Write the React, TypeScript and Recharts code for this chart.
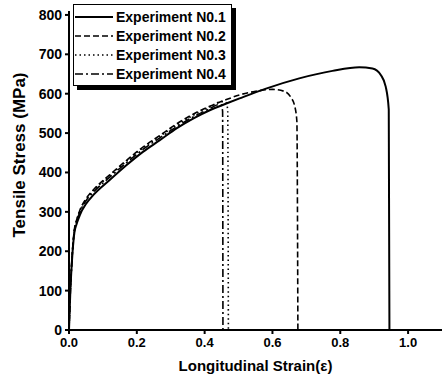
import React from 'react';
import { LineChart, Line, XAxis, YAxis } from 'recharts';

// strain / stress pairs
const strain1 = [0, 0.004, 0.008, 0.012, 0.016, 0.022, 0.032, 0.05, 0.072, 0.12, 0.17, 0.219, 0.268, 0.317, 0.366, 0.415, 0.464, 0.503, 0.581, 0.679, 0.777, 0.856, 0.895, 0.92, 0.934, 0.943, 0.945];
const stress1 = [0, 100, 165, 215, 248, 268, 292, 320, 343, 381, 419, 453, 482, 512, 537, 558, 575, 588, 613, 639, 658, 667, 664, 647, 618, 560, 0];

const strain2 = [0, 0.004, 0.008, 0.012, 0.016, 0.022, 0.032, 0.05, 0.072, 0.12, 0.17, 0.219, 0.268, 0.317, 0.366, 0.415, 0.464, 0.503, 0.55, 0.6, 0.635, 0.655, 0.665, 0.672, 0.675];
const stress2 = [0, 100, 170, 222, 256, 278, 304, 333, 356, 394, 431, 465, 494, 523, 548, 568, 585, 597, 606, 611, 606, 590, 571, 530, 0];

const strain3 = [0, 0.004, 0.008, 0.012, 0.016, 0.022, 0.032, 0.05, 0.072, 0.12, 0.17, 0.219, 0.268, 0.317, 0.366, 0.415, 0.45, 0.462, 0.468, 0.47];
const stress3 = [0, 100, 170, 220, 254, 276, 302, 331, 354, 392, 429, 463, 492, 520, 545, 566, 580, 578, 560, 0];

const strain4 = [0, 0.004, 0.008, 0.012, 0.016, 0.022, 0.032, 0.05, 0.072, 0.12, 0.17, 0.219, 0.268, 0.317, 0.366, 0.415, 0.44, 0.449, 0.453, 0.454];
const stress4 = [0, 100, 168, 218, 252, 274, 299, 328, 350, 388, 425, 459, 488, 516, 541, 562, 572, 572, 555, 0];

const seriesNames = ['Experiment N0.1', 'Experiment N0.2', 'Experiment N0.3', 'Experiment N0.4'];
const dashes = ['', '6 3', '1.5 3', '8 3 2 3'];
const widths = [2, 1.6, 1.6, 1.6];

const xTicks = [0, 0.2, 0.4, 0.6, 0.8, 1.0];
const yTicks = [0, 100, 200, 300, 400, 500, 600, 700, 800];

const zip = (xs: number[], ys: number[]) => xs.map((x, i) => ({ x, y: ys[i] }));
const allSeries = [zip(strain1, stress1), zip(strain2, stress2), zip(strain3, stress3), zip(strain4, stress4)];

const font = '"Liberation Sans", Arial, sans-serif';

function LegendBox() {
  return (
    <div style={{
      position: 'absolute', left: 73, top: 4,
      width: 159, height: 82, border: '1.5px solid #000', background: '#fff',
      boxShadow: '4px 4px 0 #000', fontFamily: font, fontWeight: 'bold', fontSize: 14,
      paddingTop: 2, boxSizing: 'border-box'
    }}>
      {seriesNames.map((name, i) => (
        <div key={name} style={{ display: 'flex', alignItems: 'center', height: 19 }}>
          <svg width={40} height={10} style={{ marginRight: 2 }}>
            <line x1={1} y1={5} x2={39} y2={5} stroke="#000" strokeWidth={widths[i]} strokeDasharray={dashes[i]} />
          </svg>
          <span>{name}</span>
        </div>
      ))}
    </div>
  );
}

export default function App() {
  return (
    <div style={{ position: 'absolute', left: 0, top: 0, width: 443, height: 379, background: '#fff' }}>
      <LineChart width={443} height={379} margin={{ top: 11, right: 1, bottom: 0, left: 0 }}>
        <XAxis
          type="number"
          dataKey="x"
          domain={[0, 1.1]}
          ticks={xTicks}
          allowDataOverflow
          tickFormatter={(v: number) => v.toFixed(1)}
          height={49}
          tickSize={4}
          tickMargin={4}
          stroke="#000"
          strokeWidth={2}
          tick={{ fill: '#000', fontSize: 13, fontWeight: 'bold', fontFamily: font }}
          label={{ value: 'Longitudinal Strain(ε)', position: 'insideBottom', offset: 8, fill: '#000', fontSize: 15, fontWeight: 'bold', fontFamily: font }}
        />
        <YAxis
          type="number"
          domain={[0, 810]}
          ticks={yTicks}
          allowDataOverflow
          width={69}
          tickSize={4}
          tickMargin={3}
          stroke="#000"
          strokeWidth={2}
          tick={{ fill: '#000', fontSize: 14, fontWeight: 'bold', fontFamily: font }}
          label={{
            content: () => (
              <text x={21} y={155} transform="rotate(-90 21 155)" textAnchor="middle" dominantBaseline="middle"
                fill="#000" fontSize={17} fontWeight="bold" fontFamily={font}>
                Tensile Stress (MPa)
              </text>
            )
          }}
        />
        {allSeries.map((d, i) => (
          <Line
            key={seriesNames[i]}
            name={seriesNames[i]}
            data={d}
            dataKey="y"
            type="monotone"
            stroke="#000"
            strokeWidth={widths[i]}
            strokeDasharray={dashes[i]}
            dot={false}
            isAnimationActive={false}
          />
        ))}
      </LineChart>
      <LegendBox />
    </div>
  );
}
